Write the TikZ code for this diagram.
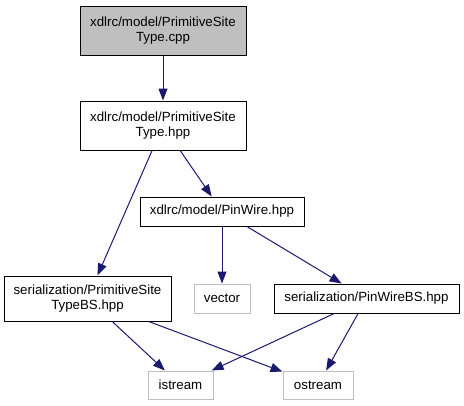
\documentclass[tikz,border=0pt]{standalone}
\usepackage{fontspec}
\setmainfont{Liberation Sans}
\usetikzlibrary{arrows.meta}
\definecolor{edgeblue}{HTML}{191970}
\definecolor{greybox}{HTML}{BFBFBF}
\tikzset{
  box/.style={draw=black, line width=1pt, rectangle, inner sep=0pt, align=center,
    font=\fontsize{13.3}{15.5}\selectfont, text=black},
  extbox/.style={box, draw=greybox},
  edge/.style={draw=edgeblue, line width=1pt, -{Triangle[length=12pt,width=9pt]}}
}
\begin{document}
\begin{tikzpicture}[x=1pt,y=-1pt]
\useasboundingbox (0,0) rectangle (464,405);
\node[box, fill=greybox, minimum width=166pt, minimum height=49pt] (cpp) at (163,30.5) {xdlrc/model/PrimitiveSite\\Type.cpp};
\node[box, minimum width=166pt, minimum height=49pt] (hpp) at (163,125.5) {xdlrc/model/PrimitiveSite\\Type.hpp};
\node[box, minimum width=164pt, minimum height=29pt] (pw) at (222,211.5) {xdlrc/model/PinWire.hpp};
\node[box, minimum width=167pt, minimum height=45pt] (bs) at (87.5,298.5) {serialization/PrimitiveSite\\TypeBS.hpp};
\node[extbox, minimum width=56pt, minimum height=29pt] (vec) at (222,298.5) {vector};
\node[box, minimum width=185pt, minimum height=29pt] (pwbs) at (366.5,298.5) {serialization/PinWireBS.hpp};
\node[extbox, minimum width=65pt, minimum height=28pt] (is) at (180.5,385) {istream};
\node[extbox, minimum width=70pt, minimum height=28pt] (os) at (318,385) {ostream};
\draw[edge] (cpp) -- (hpp);
\draw[edge] (hpp) -- (bs);
\draw[edge] (hpp) -- (pw);
\draw[edge] (pw) -- (vec);
\draw[edge] (pw) -- (pwbs);
\draw[edge] (bs) -- (is);
\draw[edge] (bs) -- (os);
\draw[edge] (pwbs) -- (is);
\draw[edge] (pwbs) -- (os);
\end{tikzpicture}
\end{document}
